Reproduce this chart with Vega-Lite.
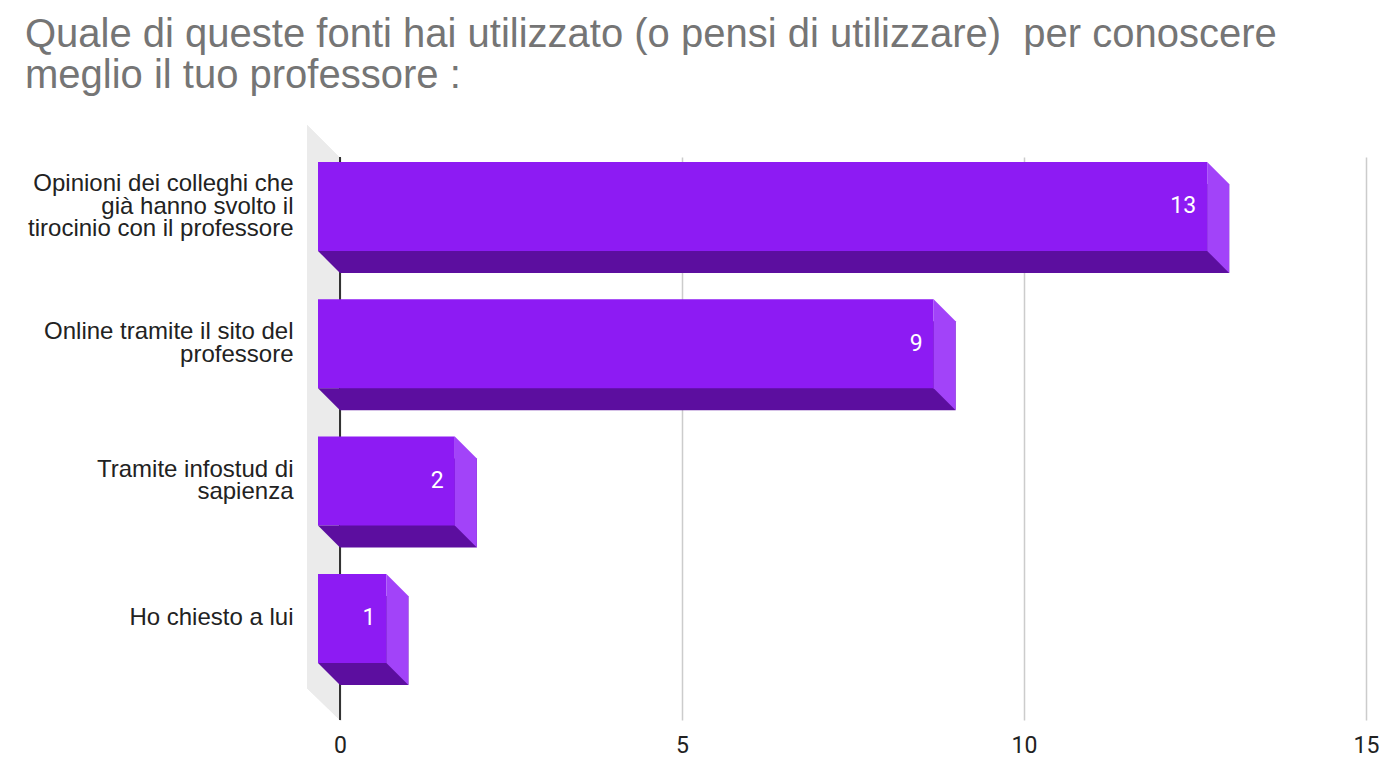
{
  "$schema": "https://vega.github.io/schema/vega-lite/v6.json",
  "width": 1026,
  "height": 563,
  "autosize": "none",
  "padding": {"left": 340, "top": 157, "right": 32, "bottom": 46},
  "background": "#ffffff",
  "title": {
    "text": ["Quale di queste fonti hai utilizzato (o pensi di utilizzare)\u00a0 per conoscere", "meglio il tuo professore :"],
    "anchor": "start",
    "frame": "group",
    "dx": -315,
    "font": "Liberation Sans",
    "fontSize": 40,
    "fontWeight": "normal",
    "color": "#757575",
    "lineHeight": 41,
    "offset": 29
  },
  "config": {"view": {"stroke": null}},
  "data": {
    "values": [
      {"fonte": "Opinioni dei colleghi che\ngià hanno svolto il\ntirocinio con il professore", "valore": 13},
      {"fonte": "Online tramite il sito del\nprofessore", "valore": 9},
      {"fonte": "Tramite infostud di\nsapienza", "valore": 2},
      {"fonte": "Ho chiesto a lui", "valore": 1}
    ]
  },
  "encoding": {
    "y": {
      "field": "fonte",
      "type": "nominal",
      "sort": null,
      "scale": {"paddingInner": 0.352, "paddingOuter": 0.226, "align": 0.08},
      "axis": {
        "title": null,
        "domain": false,
        "ticks": false,
        "grid": false,
        "labelPadding": 47,
        "labelLimit": 600,
        "labelFont": "Liberation Sans",
        "labelFontSize": 24,
        "labelLineHeight": 22.5,
        "labelColor": "#222222",
        "labelExpr": "split(datum.label, '\\n')",
        "labelOffset": {
          "condition": [
            {"test": "length(split(datum.value, '\\n')) == 3", "value": -22},
            {"test": "length(split(datum.value, '\\n')) == 2", "value": -11.5}
          ],
          "value": 0
        }
      }
    }
  },
  "layer": [
    {
      "mark": {"type": "point", "shape": "M-33,-313.5L0,-280.5L0,281.5L-33,249.5Z", "size": 4, "filled": true, "opacity": 1, "strokeWidth": 0, "color": "#ebebeb"},
      "encoding": {
        "x": {
          "datum": 0,
          "type": "quantitative",
          "scale": {"domain": [0, 15], "nice": false},
          "axis": {
            "title": null,
            "values": [0, 5, 10, 15],
            "format": "d",
            "domain": false,
            "ticks": false,
            "grid": true,
            "gridColor": "#cccccc",
            "gridWidth": 1.5,
            "labelFlush": false,
            "labelPadding": 14,
            "labelFont": "Roboto",
            "labelFontSize": 23,
            "labelColor": "#222222"
          }
        },
        "y": null
      }
    },
    {
      "mark": {"type": "rule", "color": "#333333", "strokeWidth": 2},
      "encoding": {"x": {"datum": 0, "type": "quantitative"}, "y": null}
    },
    {
      "mark": {"type": "bar", "color": "#5c0e9f", "yOffset": 22, "y2Offset": 22},
      "encoding": {
        "x": {"field": "valore", "type": "quantitative"},
        "x2": {"datum": 0}
      }
    },
    {
      "mark": {"type": "bar", "color": "#8d1bf3", "xOffset": -22, "x2Offset": -22},
      "encoding": {
        "x": {"field": "valore", "type": "quantitative"},
        "x2": {"datum": 0}
      }
    },
    {
      "mark": {"type": "point", "shape": "M-22,-44.5L0,-22.5L0,66.5L-22,44.5Z", "size": 4, "filled": true, "opacity": 1, "strokeWidth": 0, "color": "#a243f9"},
      "encoding": {
        "x": {"field": "valore", "type": "quantitative"}
      }
    },
    {
      "mark": {"type": "point", "shape": "M-22,44.5L0,44.5L0,66.5Z", "size": 4, "filled": true, "opacity": 1, "strokeWidth": 0, "color": "#5c0e9f"},
      "encoding": {
        "x": {"datum": 0, "type": "quantitative"}
      }
    },
    {
      "mark": {"type": "text", "align": "right", "baseline": "middle", "xOffset": -33, "font": "Roboto", "fontSize": 23, "color": "#ffffff"},
      "encoding": {
        "x": {"field": "valore", "type": "quantitative"},
        "text": {"field": "valore", "type": "quantitative"}
      }
    }
  ]
}
